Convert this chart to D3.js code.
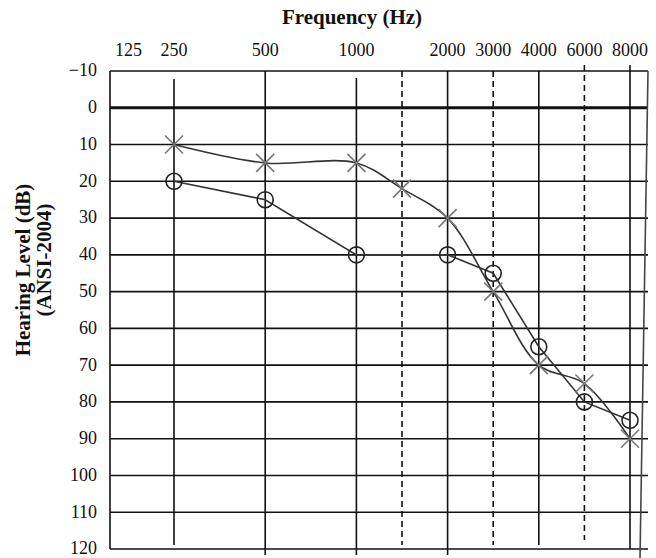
<!DOCTYPE html>
<html lang="en">
<head>
<meta charset="utf-8">
<title>Audiogram</title>
<style>
  body { margin: 0; background: #fff; }
  svg { display: block; font-family: "Liberation Serif", "Times New Roman", serif; }
  .tick-label { font-size: 18px; fill: #111; }
  .title { font-size: 21px; font-weight: bold; fill: #111; }
</style>
</head>
<body>
<div id="chart"></div>
<script src="https://cdnjs.cloudflare.com/ajax/libs/d3/7.8.5/d3.min.js"></script>
<script>
var width = 656,
    height = 558;

// frequencies (Hz)
var octaves = [250, 500, 1000, 2000, 4000, 8000];
var freqLabels = [125, 250, 500, 1000, 2000, 3000, 4000, 6000, 8000];
var solidFreqs = [250, 500, 1000, 2000, 4000, 8000];
var dashedFreqs = [1500, 3000, 6000];
var dbTicks = [-10, 0, 10, 20, 30, 40, 50, 60, 70, 80, 90, 100, 110, 120];

// thresholds (dB HL)
var circleFreqs = [250, 500, 1000, 2000, 3000, 4000, 6000, 8000];
var circleValues = [20, 25, 40, 40, 45, 65, 80, 85];
var crossFreqs = [250, 500, 1000, 1500, 2000, 3000, 4000, 6000, 8000];
var crossValues = [10, 15, 15, 22, 30, 50, 70, 75, 90];

var boxLeft = 110, boxRight = 648, boxTop = 71, boxBottom = 549;
var x0 = 174, x1 = 630;
var step = (x1 - x0) / (octaves.length - 1);

// audiogram frequency axis: equal octaves, linear within each octave
var x = d3.scaleLinear()
    .domain(octaves)
    .range(octaves.map(function(d, i) { return x0 + i * step; }));

var y = d3.scaleLinear()
    .domain([-10, 120])
    .range([boxTop, boxBottom]);

var svg = d3.select("#chart")
    .append("svg")
    .attr("width", width)
    .attr("height", height);

// horizontal grid
svg.selectAll(".hgrid")
    .data(dbTicks)
  .enter().append("line")
    .attr("x1", boxLeft)
    .attr("x2", boxRight)
    .attr("y1", function(d) { return y(d); })
    .attr("y2", function(d) { return y(d); })
    .attr("stroke", "#111")
    .attr("stroke-width", function(d) { return d === 0 ? 3 : 1.6; });

// left border
svg.append("line")
    .attr("x1", boxLeft).attr("x2", boxLeft)
    .attr("y1", y(-10)).attr("y2", y(120))
    .attr("stroke", "#111").attr("stroke-width", 1.6);

// right border (slightly slanted in the original)
svg.append("line")
    .attr("x1", boxRight).attr("x2", boxRight - 8)
    .attr("y1", y(-10)).attr("y2", height)
    .attr("stroke", "#444").attr("stroke-width", 1.6);

// vertical lines: start / end offsets around the plot box
var vExtent = {
  250: [8, -4], 500: [0, 6], 1000: [7, 6], 2000: [0, 6], 4000: [0, -4], 8000: [-6, 0],
  1500: [0, -4], 3000: [0, -4], 6000: [-6, -9]
};

svg.selectAll(".vsolid")
    .data(solidFreqs)
  .enter().append("line")
    .attr("x1", function(d) { return x(d); })
    .attr("x2", function(d) { return x(d); })
    .attr("y1", function(d) { return boxTop + vExtent[d][0]; })
    .attr("y2", function(d) { return boxBottom + vExtent[d][1]; })
    .attr("stroke", "#111")
    .attr("stroke-width", 1.6);

svg.selectAll(".vdash")
    .data(dashedFreqs)
  .enter().append("line")
    .attr("x1", function(d) { return x(d); })
    .attr("x2", function(d) { return x(d); })
    .attr("y1", function(d) { return boxTop + vExtent[d][0]; })
    .attr("y2", function(d) { return boxBottom + vExtent[d][1]; })
    .attr("stroke", "#111")
    .attr("stroke-width", 1.6)
    .attr("stroke-dasharray", "6,4");

// frequency labels
svg.selectAll(".xlabel")
    .data(freqLabels)
  .enter().append("text")
    .attr("class", "tick-label")
    .attr("x", function(d) { return d < octaves[0] ? x(octaves[0]) - step / 2 : x(d); })
    .attr("y", 56)
    .attr("text-anchor", "middle")
    .text(function(d) { return d; });

// dB labels
svg.selectAll(".ylabel")
    .data(dbTicks)
  .enter().append("text")
    .attr("class", "tick-label")
    .attr("x", 97)
    .attr("y", function(d) { return y(d); })
    .attr("dy", "0.3em")
    .attr("text-anchor", "end")
    .text(function(d) { return d < 0 ? "\u2212" + Math.abs(d) : d; });

// titles
svg.append("text")
    .attr("class", "title")
    .attr("x", 352)
    .attr("y", 24)
    .attr("text-anchor", "middle")
    .text("Frequency (Hz)");

svg.append("text")
    .attr("class", "title")
    .attr("transform", "translate(30,270) rotate(-90)")
    .attr("text-anchor", "middle")
    .text("Hearing Level (dB)");

svg.append("text")
    .attr("class", "title")
    .attr("transform", "translate(51,260) rotate(-90)")
    .attr("text-anchor", "middle")
    .text("(ANSI-2004)");

// series
var circles = circleFreqs.map(function(f, i) { return [f, circleValues[i]]; });
var crosses = crossFreqs.map(function(f, i) { return [f, crossValues[i]]; });

var lineStraight = d3.line()
    .x(function(d) { return x(d[0]); })
    .y(function(d) { return y(d[1]); });

var lineCurved = d3.line()
    .curve(d3.curveCatmullRom.alpha(0.5))
    .x(function(d) { return x(d[0]); })
    .y(function(d) { return y(d[1]); });

svg.append("path")
    .attr("d", lineCurved(crosses))
    .attr("fill", "none")
    .attr("stroke", "#333")
    .attr("stroke-width", 1.6);

svg.append("path")
    .attr("d", lineStraight(circles))
    .attr("fill", "none")
    .attr("stroke", "#333")
    .attr("stroke-width", 1.6);

var s = 9;
svg.selectAll(".cross")
    .data(crosses)
  .enter().append("path")
    .attr("d", function(d) {
      var cx = x(d[0]), cy = y(d[1]);
      return "M" + (cx - s) + "," + (cy - s) + "L" + (cx + s) + "," + (cy + s) +
             "M" + (cx - s) + "," + (cy + s) + "L" + (cx + s) + "," + (cy - s);
    })
    .attr("fill", "none")
    .attr("stroke", "#777")
    .attr("stroke-width", 1.6);

svg.selectAll(".circle")
    .data(circles)
  .enter().append("circle")
    .attr("cx", function(d) { return x(d[0]); })
    .attr("cy", function(d) { return y(d[1]); })
    .attr("r", 8)
    .attr("fill", "none")
    .attr("stroke", "#222")
    .attr("stroke-width", 1.6);
</script>
</body>
</html>
